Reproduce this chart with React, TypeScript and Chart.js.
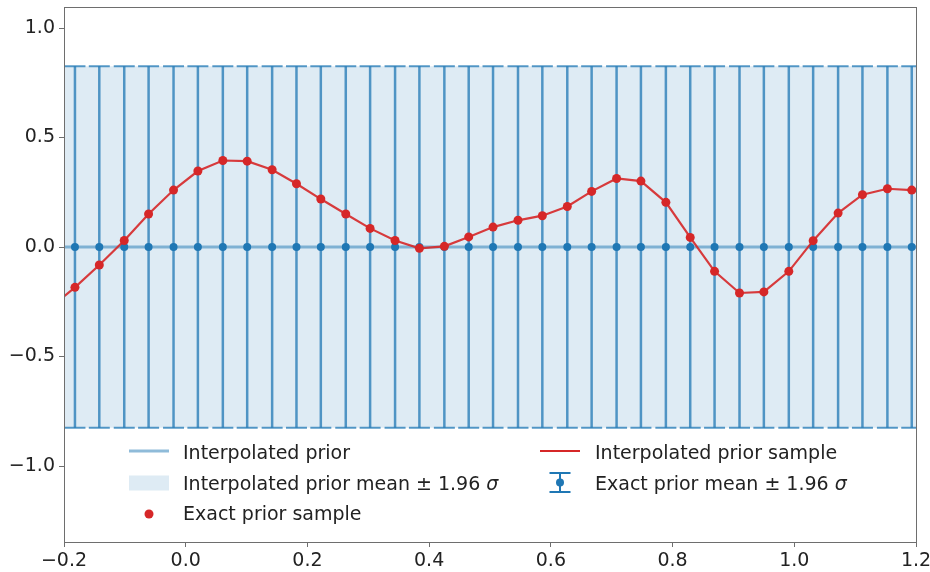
import { useEffect, useRef } from "react";
import { Chart, registerables } from "chart.js";

Chart.register(...registerables);

// Axis ticks
const xTicks = [-0.2, 0.0, 0.2, 0.4, 0.6, 0.8, 1.0, 1.2];
const yTicks = [-1.0, -0.5, 0.0, 0.5, 1.0];

// Interpolated prior (grid ends) and its ±1.96σ band
const interpX = [-0.2, 1.2];
const interpMean = [0.0, 0.0];
const interpUpper = [0.825, 0.825];
const interpLower = [-0.825, -0.825];

// Exact evaluation points
const exactX = [
  -0.182, -0.142, -0.101, -0.061, -0.02, 0.02, 0.061, 0.101, 0.142, 0.182,
  0.222, 0.263, 0.303, 0.344, 0.384, 0.425, 0.465, 0.505, 0.546, 0.586,
  0.627, 0.667, 0.708, 0.748, 0.789, 0.829, 0.869, 0.91, 0.95, 0.991,
  1.031, 1.072, 1.112, 1.153, 1.193,
];
const exactMean = [
  0, 0, 0, 0, 0, 0, 0, 0, 0, 0, 0, 0, 0, 0, 0, 0, 0, 0, 0, 0, 0, 0, 0, 0, 0,
  0, 0, 0, 0, 0, 0, 0, 0, 0, 0,
];
const exactHalfWidth = [
  0.825, 0.825, 0.825, 0.825, 0.825, 0.825, 0.825, 0.825, 0.825, 0.825,
  0.825, 0.825, 0.825, 0.825, 0.825, 0.825, 0.825, 0.825, 0.825, 0.825,
  0.825, 0.825, 0.825, 0.825, 0.825, 0.825, 0.825, 0.825, 0.825, 0.825,
  0.825, 0.825, 0.825, 0.825, 0.825,
];
const exactSample = [
  -0.184, -0.082, 0.03, 0.151, 0.26, 0.347, 0.395, 0.392, 0.353, 0.289,
  0.219, 0.151, 0.085, 0.03, -0.006, 0.003, 0.046, 0.091, 0.122, 0.143,
  0.185, 0.254, 0.313, 0.301, 0.204, 0.044, -0.111, -0.21, -0.205, -0.111,
  0.029, 0.155, 0.239, 0.266, 0.26,
];

// Interpolated sample, including the extrapolated ends of the grid
const interpSampleX = [-0.2, ...exactX, 1.2];
const interpSampleY = [-0.226, ...exactSample, 0.259];

const C0 = "31,119,180";
const RED = "#d62728";
const FONT = "DejaVu Sans";
const TEXT = "#222222";
const SPINE = "#6e6e6e";

const zip = (xs: number[], ys: number[]) => xs.map((x, i) => ({ x, y: ys[i] }));
const fmt = (v: number) => v.toFixed(1).replace("-", "\u2212");

const errorBars = {
  id: "errorBars",
  afterDatasetDraw(chart: any, args: any) {
    if (args.index !== 4) return;
    const { ctx, scales, chartArea: a } = chart;
    const xs = scales.x;
    const ys = scales.y;
    ctx.save();
    ctx.beginPath();
    ctx.rect(a.left, a.top, a.right - a.left, a.bottom - a.top);
    ctx.clip();
    ctx.strokeStyle = `rgba(${C0},0.75)`;
    for (let i = 0; i < exactX.length; i++) {
      const px = xs.getPixelForValue(exactX[i]);
      const top = ys.getPixelForValue(exactMean[i] + exactHalfWidth[i]);
      const bot = ys.getPixelForValue(exactMean[i] - exactHalfWidth[i]);
      ctx.lineWidth = 2.5;
      ctx.beginPath();
      ctx.moveTo(px, top);
      ctx.lineTo(px, bot);
      ctx.stroke();
      ctx.lineWidth = 2;
      ctx.beginPath();
      ctx.moveTo(px - 10.5, top);
      ctx.lineTo(px + 10.5, top);
      ctx.moveTo(px - 10.5, bot);
      ctx.lineTo(px + 10.5, bot);
      ctx.stroke();
    }
    ctx.restore();
  },
};

const frameAndLegend = {
  id: "frameAndLegend",
  afterDraw(chart: any) {
    const { ctx, chartArea: a } = chart;
    ctx.save();
    // axes frame
    ctx.strokeStyle = SPINE;
    ctx.lineWidth = 1;
    ctx.strokeRect(
      Math.round(a.left) + 0.5,
      Math.round(a.top) + 0.5,
      Math.round(a.right - a.left),
      Math.round(a.bottom - a.top)
    );

    // legend
    const base = [459, 489.5, 520];
    const c1h = 129, c1t = 183, c2h = 540, c2t = 595, hw = 40;
    ctx.font = `19px "${FONT}"`;
    ctx.fillStyle = TEXT;
    ctx.textBaseline = "alphabetic";
    ctx.textAlign = "left";

    // row 1, col 1: interpolated prior line
    ctx.strokeStyle = `rgba(${C0},0.5)`;
    ctx.lineWidth = 3;
    ctx.beginPath();
    ctx.moveTo(c1h, base[0] - 8);
    ctx.lineTo(c1h + hw, base[0] - 8);
    ctx.stroke();
    ctx.fillStyle = TEXT;
    ctx.fillText("Interpolated prior", c1t, base[0]);

    // row 2, col 1: band patch
    ctx.fillStyle = `rgba(${C0},0.15)`;
    ctx.fillRect(c1h, base[1] - 14, hw, 15);
    ctx.fillStyle = TEXT;
    const t2 = "Interpolated prior mean \u00b1 1.96 ";
    ctx.fillText(t2, c1t, base[1]);
    const w2 = ctx.measureText(t2).width;
    ctx.font = `italic 19px "${FONT}"`;
    ctx.fillText("\u03c3", c1t + w2, base[1]);
    ctx.font = `19px "${FONT}"`;

    // row 3, col 1: exact sample marker
    ctx.fillStyle = RED;
    ctx.beginPath();
    ctx.arc(c1h + hw / 2, base[2] - 6, 4.5, 0, Math.PI * 2);
    ctx.fill();
    ctx.fillStyle = TEXT;
    ctx.fillText("Exact prior sample", c1t, base[2]);

    // row 1, col 2: interpolated sample line
    ctx.strokeStyle = RED;
    ctx.lineWidth = 2.2;
    ctx.beginPath();
    ctx.moveTo(c2h, base[0] - 8);
    ctx.lineTo(c2h + hw, base[0] - 8);
    ctx.stroke();
    ctx.fillStyle = TEXT;
    ctx.fillText("Interpolated prior sample", c2t, base[0]);

    // row 2, col 2: error bar marker
    const ex = c2h + hw / 2;
    const ey = base[1] - 7;
    ctx.strokeStyle = `rgb(${C0})`;
    ctx.lineWidth = 2;
    ctx.beginPath();
    ctx.moveTo(ex, ey - 9.5);
    ctx.lineTo(ex, ey + 9.5);
    ctx.moveTo(ex - 10.5, ey - 9.5);
    ctx.lineTo(ex + 10.5, ey - 9.5);
    ctx.moveTo(ex - 10.5, ey + 9.5);
    ctx.lineTo(ex + 10.5, ey + 9.5);
    ctx.stroke();
    ctx.fillStyle = `rgb(${C0})`;
    ctx.beginPath();
    ctx.arc(ex, ey, 4, 0, Math.PI * 2);
    ctx.fill();
    ctx.fillStyle = TEXT;
    const t5 = "Exact prior mean \u00b1 1.96 ";
    ctx.fillText(t5, c2t, base[1]);
    const w5 = ctx.measureText(t5).width;
    ctx.font = `italic 19px "${FONT}"`;
    ctx.fillText("\u03c3", c2t + w5, base[1]);
    ctx.restore();
  },
};

// keep tick labels from pushing the plot area inwards
const noOverhang = (s: any) => {
  s.paddingTop = 0;
  s.paddingBottom = 0;
  s.paddingLeft = 0;
  s.paddingRight = 0;
};

export default function App() {
  const ref = useRef<HTMLCanvasElement>(null);

  useEffect(() => {
    document.body.style.margin = "0";
    const chart = new Chart(ref.current as HTMLCanvasElement, {
      type: "scatter",
      data: {
        datasets: [
          {
            label: "Exact prior sample",
            data: zip(exactX, exactSample),
            showLine: false,
            pointRadius: 4.5,
            pointBackgroundColor: RED,
            pointBorderWidth: 0,
          },
          {
            label: "Interpolated prior sample",
            data: zip(interpSampleX, interpSampleY),
            showLine: true,
            borderColor: "rgba(214,39,40,0.9)",
            borderWidth: 2.2,
            pointRadius: 0,
          },
          {
            label: "Exact prior mean",
            data: zip(exactX, exactMean),
            showLine: false,
            pointRadius: 4,
            pointBackgroundColor: `rgb(${C0})`,
            pointBorderWidth: 0,
          },
          {
            label: "Interpolated prior",
            data: zip(interpX, interpMean),
            showLine: true,
            borderColor: `rgba(${C0},0.5)`,
            borderWidth: 3,
            pointRadius: 0,
          },
          {
            label: "Interpolated prior upper",
            data: zip(interpX, interpUpper),
            showLine: true,
            borderWidth: 0,
            pointRadius: 0,
            backgroundColor: `rgba(${C0},0.15)`,
            fill: "+1",
          },
          {
            label: "Interpolated prior lower",
            data: zip(interpX, interpLower),
            showLine: true,
            borderWidth: 0,
            pointRadius: 0,
          },
        ],
      },
      options: {
        animation: false,
        responsive: false,
        devicePixelRatio: 1,
        events: [],
        layout: { padding: { left: 0, right: 14, top: 7, bottom: 0 } },
        plugins: { legend: { display: false }, tooltip: { enabled: false } },
        scales: {
          x: {
            type: "linear",
            min: -0.2,
            max: 1.2,
            afterBuildTicks: (s: any) => {
              s.ticks = xTicks.map((v) => ({ value: v }));
            },
            afterFit: (s: any) => {
              s.height = 30;
              noOverhang(s);
            },
            grid: {
              drawOnChartArea: false,
              drawTicks: true,
              tickLength: 5,
              color: SPINE,
            },
            border: { display: false },
            ticks: {
              color: TEXT,
              padding: 3,
              maxRotation: 0,
              autoSkip: false,
              font: { family: FONT, size: 19 },
              callback: (v: any) => fmt(Number(v)),
            },
          },
          y: {
            type: "linear",
            min: -1.347,
            max: 1.096,
            afterBuildTicks: (s: any) => {
              s.ticks = yTicks.map((v) => ({ value: v }));
            },
            afterFit: (s: any) => {
              s.width = 64;
              noOverhang(s);
            },
            grid: {
              drawOnChartArea: false,
              drawTicks: true,
              tickLength: 5,
              color: SPINE,
            },
            border: { display: false },
            ticks: {
              color: TEXT,
              padding: 4,
              autoSkip: false,
              font: { family: FONT, size: 19 },
              callback: (v: any) => fmt(Number(v)),
            },
          },
        },
      },
      plugins: [errorBars, frameAndLegend],
    });
    return () => chart.destroy();
  }, []);

  return (
    <div style={{ width: 930, height: 572 }}>
      <canvas ref={ref} width={930} height={572} style={{ display: "block" }} />
    </div>
  );
}
